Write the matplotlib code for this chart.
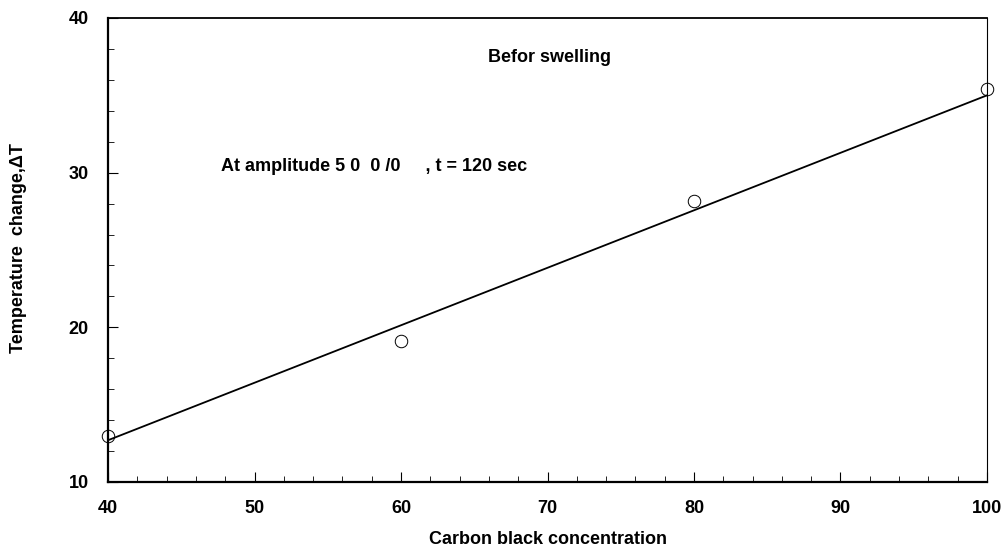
import matplotlib
matplotlib.use("Agg")
import matplotlib.pyplot as plt
from matplotlib.ticker import MultipleLocator

# --- DATA ---
carbon_black = [40, 60, 80, 100]
temp_change = [13.0, 19.1, 28.2, 35.4]

# straight line drawn through the points
fit_x = [40, 100]
fit_y = [12.7, 35.0]

x_ticks = [40, 50, 60, 70, 80, 90, 100]
y_ticks = [10, 20, 30, 40]

plt.rcParams['font.family'] = ['Liberation Sans', 'DejaVu Sans']
plt.rcParams['font.weight'] = 'bold'

W, H = 1003, 550
fig = plt.figure(figsize=(W / 100, H / 100), dpi=100)
ax = fig.add_axes([108 / W, 68 / H, 879 / W, 464 / H])

ax.plot(fit_x, fit_y, color='black', linewidth=1.3, zorder=2)
ax.plot(carbon_black, temp_change, linestyle='none', marker='o', markersize=9,
        markerfacecolor='none', markeredgecolor='black', markeredgewidth=0.7,
        clip_on=False, zorder=3)

ax.set_xlim(40, 100)
ax.set_ylim(10, 40)
ax.set_xticks(x_ticks)
ax.set_yticks(y_ticks)
ax.xaxis.set_minor_locator(MultipleLocator(2))
ax.yaxis.set_minor_locator(MultipleLocator(2))
ax.tick_params(which='major', direction='in', length=7, width=0.8)
ax.tick_params(which='minor', direction='in', length=4, width=0.6)
ax.tick_params(axis='x', labelsize=13, pad=13)
ax.tick_params(axis='y', labelsize=13, pad=14)

ax.spines['left'].set_linewidth(1.6)
ax.spines['bottom'].set_linewidth(1.6)
ax.spines['top'].set_linewidth(1.3)
ax.spines['right'].set_linewidth(0.8)
ax.spines['right'].set_linestyle((0, (6, 1)))

# axis titles placed in figure pixels
fig.text(548 / W, 1 - 540 / H, "Carbon black concentration",
         ha='center', va='center', fontsize=13, fontweight='bold')
fig.text(19 / W, 1 - 248 / H, "Temperature  change,\u0394T", rotation=90,
         ha='center', va='center', fontsize=13, fontweight='bold')

ax.text(0.502, 0.915, "Befor swelling", transform=ax.transAxes,
        ha='center', va='center', fontsize=13, fontweight='bold')
ax.text(0.128, 0.68, "At amplitude 5 0  0 /0     , t = 120 sec", transform=ax.transAxes,
        ha='left', va='center', fontsize=13, fontweight='bold')

fig.savefig("out.png", dpi=100)
